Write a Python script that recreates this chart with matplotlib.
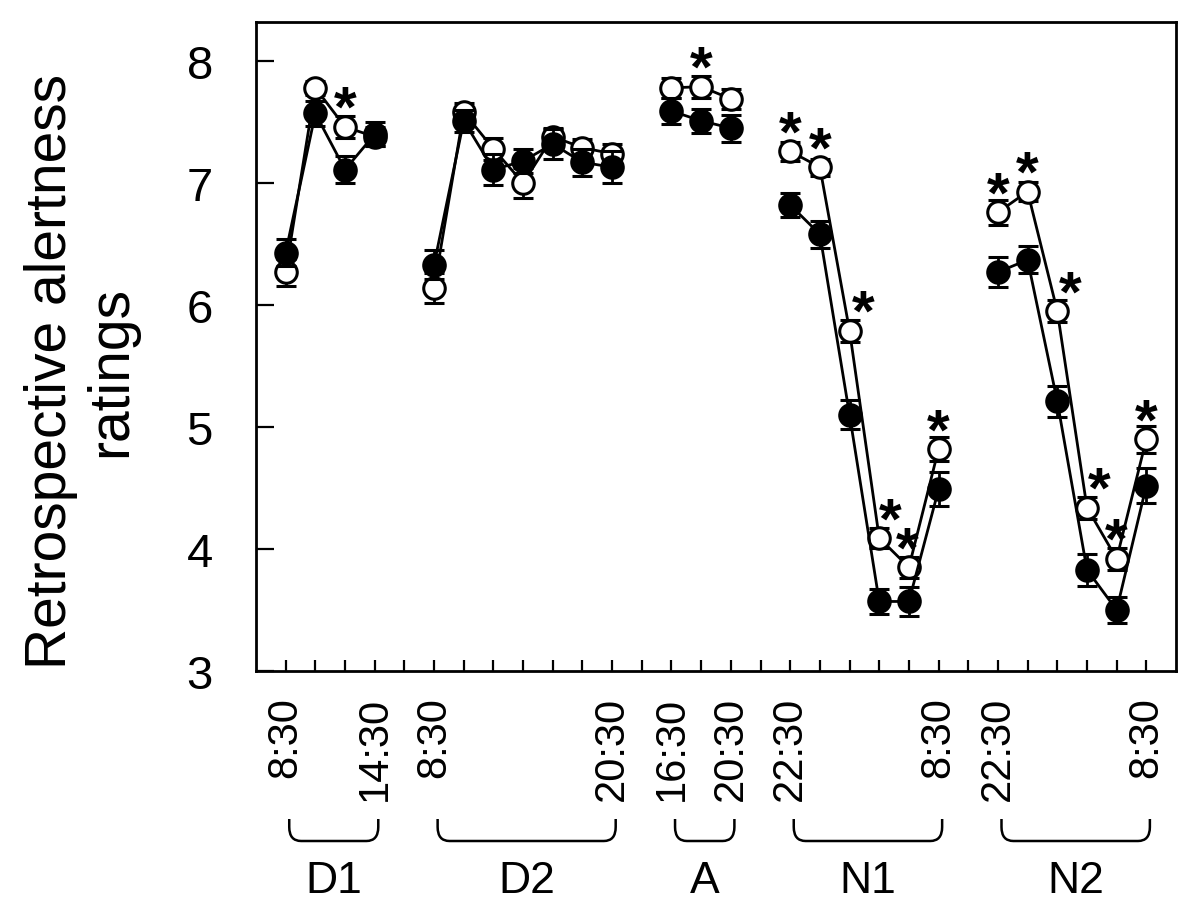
import matplotlib
matplotlib.use("Agg")
import matplotlib.pyplot as plt
import numpy as np
from matplotlib.path import Path
from matplotlib.patches import PathPatch
from matplotlib.transforms import blended_transform_factory

plt.rcParams['font.family'] = ['Liberation Sans', 'DejaVu Sans']

nan = np.nan

# one slot per 2-hour rating, NaN = gap between sessions
tick_labels = ['8:30', '', '', '14:30', '',
               '8:30', '', '', '', '', '', '20:30', '',
               '16:30', '', '20:30', '',
               '22:30', '', '', '', '', '8:30', '',
               '22:30', '', '', '', '', '8:30']
group_names = ['D1', 'D2', 'A', 'N1', 'N2']

filled_mean = [6.43, 7.57, 7.11, 7.40, nan,
               6.33, 7.51, 7.11, 7.18, 7.32, 7.17, 7.13, nan,
               7.59, 7.51, 7.45, nan,
               6.82, 6.58, 5.10, 3.57, 3.57, 4.49, nan,
               6.27, 6.37, 5.21, 3.83, 3.50, 4.52]
filled_err = [0.11, 0.10, 0.11, 0.10, nan,
              0.12, 0.09, 0.13, 0.10, 0.12, 0.11, 0.13, nan,
              0.11, 0.10, 0.11, nan,
              0.10, 0.11, 0.12, 0.10, 0.12, 0.14, nan,
              0.12, 0.11, 0.13, 0.13, 0.11, 0.14]
open_mean = [6.27, 7.78, 7.46, 7.38, nan,
             6.14, 7.58, 7.28, 7.00, 7.38, 7.29, 7.24, nan,
             7.78, 7.79, 7.69, nan,
             7.26, 7.13, 5.79, 4.09, 3.85, 4.82, nan,
             6.76, 6.93, 5.95, 4.34, 3.92, 4.90]
open_err = [0.11, 0.06, 0.09, 0.08, nan,
            0.12, 0.08, 0.09, 0.12, 0.07, 0.07, 0.08, nan,
            0.08, 0.09, 0.08, nan,
            0.08, 0.07, 0.09, 0.08, 0.085, 0.10, nan,
            0.10, 0.08, 0.09, 0.09, 0.09, 0.11]

# significant differences (marked with *)
star_idx = [2, 14, 17, 18, 19, 20, 21, 22, 24, 25, 26, 27, 28, 29]

x = np.arange(len(tick_labels))
filled_mean = np.array(filled_mean)
open_mean = np.array(open_mean)

fig = plt.figure(figsize=(12, 9.2), dpi=100)
ax = fig.add_axes([256 / 1200, 248 / 920, 920 / 1200, 649 / 920])

style = dict(color='black', lw=2, elinewidth=2, capsize=7.5, capthick=2.6,
             markersize=15.5, markeredgewidth=2.2, markeredgecolor='black')
ax.errorbar(x, open_mean, yerr=open_err, fmt='-o', markerfacecolor='white',
            zorder=2, **style)
ax.errorbar(x, filled_mean, yerr=filled_err, fmt='-o', markerfacecolor='black',
            zorder=3, **style)

# asterisks, a few nudged right to clear the lines
star_dx = {19: 0.45, 20: 0.36, 21: -0.06, 26: 0.42, 27: 0.43}
for i in star_idx:
    ax.text(x[i] + star_dx.get(i, 0), open_mean[i] + 0.13, '*', ha='center',
            va='center', fontsize=42, fontweight='bold', zorder=4)

ax.set_xlim(-1, 30)
ax.set_ylim(3, 8.32)
ax.set_xticks(x)
ax.set_xticklabels(tick_labels)
ax.set_yticks([3, 4, 5, 6, 7, 8])
ax.tick_params(axis='x', direction='in', length=8, width=1.6, pad=18,
               labelsize=30, labelrotation=90)
ax.tick_params(axis='y', direction='in', length=13, width=1.6, pad=31,
               labelsize=34)
for sp in ax.spines.values():
    sp.set_linewidth(2)

ax.set_ylabel('Retrospective alertness\nratings', fontsize=41, linespacing=1.15)
ax.yaxis.set_label_coords(-0.128, 0.463)

# session brackets under the time labels
trans = blended_transform_factory(ax.transData, fig.transFigure)
valid = ~np.isnan(filled_mean)
runs = []
start = None
for i, v in enumerate(valid):
    if v and start is None:
        start = i
    if not v and start is not None:
        runs.append((start, i - 1))
        start = None
if start is not None:
    runs.append((start, len(valid) - 1))

top, bot = 100 / 920, 78 / 920
ry, rx = 14 / 920, 0.4
for name, (a, b) in zip(group_names, runs):
    x0, x1 = a + 0.12, b + 0.12
    verts = [(x0, top), (x0, bot + ry), (x0, bot), (x0 + rx, bot),
             (x1 - rx, bot), (x1, bot), (x1, bot + ry), (x1, top)]
    codes = [Path.MOVETO, Path.LINETO, Path.CURVE3, Path.CURVE3,
             Path.LINETO, Path.CURVE3, Path.CURVE3, Path.LINETO]
    ax.add_patch(PathPatch(Path(verts, codes), transform=trans, fill=False,
                           lw=1.8, color='black', clip_on=False))
    ax.text((x0 + x1) / 2, 38 / 920, name, transform=trans, ha='center',
            va='center', fontsize=32,
            family=['Liberation Sans Narrow', 'Liberation Sans', 'DejaVu Sans'])

fig.savefig('out.png', dpi=100)
